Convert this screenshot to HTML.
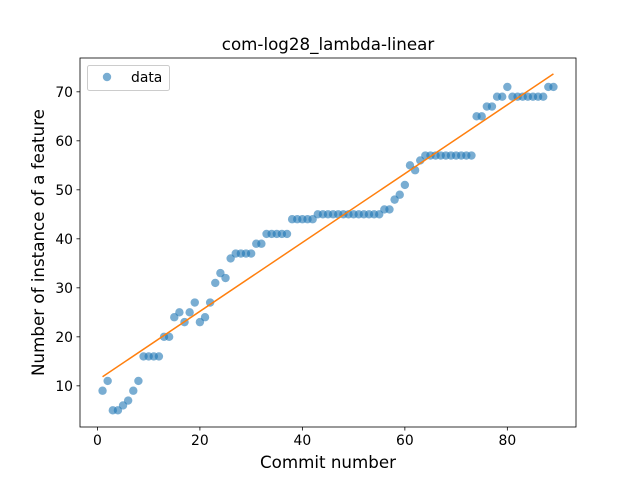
<!DOCTYPE html>
<html><head><meta charset="utf-8"><style>
body{margin:0;background:#fff}
text{font-family:"DejaVu Sans","Liberation Sans",sans-serif;fill:#000}
</style></head><body>
<svg id="chart" width="640" height="480" xmlns="http://www.w3.org/2000/svg">
<rect width="640" height="480" fill="#fff"/>
<g id="plot"></g>
</svg>
<script>
const commits = [];
for (let i = 1; i <= 89; i++) commits.push(i);
const counts = [9,11,5,5,6,7,9,11,16,16,16,16,20,20,24,25,23,25,27,23,24,27,31,33,32,36,37,37,37,37,39,39,41,41,41,41,41,44,44,44,44,44,45,45,45,45,45,45,45,45,45,45,45,45,45,46,46,48,49,51,55,54,56,57,57,57,57,57,57,57,57,57,57,65,65,67,67,69,69,71,69,69,69,69,69,69,69,71,71];
const xTicks = [0,20,40,60,80];
const yTicks = [10,20,30,40,50,60,70];

const L=80,R=576,T=58,B=427;
const xMin=-3.4,xMax=93.4,yMin=1.6,yMax=76.9;
const sx=v=>L+(v-xMin)/(xMax-xMin)*(R-L);
const sy=v=>B-(v-yMin)/(yMax-yMin)*(B-T);
const NS="http://www.w3.org/2000/svg";
const svg=document.getElementById('chart');
function mk(tag,attrs,parent){const e=document.createElementNS(NS,tag);for(const k in attrs)e.setAttribute(k,attrs[k]);(parent||svg).appendChild(e);return e;}

const pts=mk('g',{});


commits.forEach((c,i)=>{
  const p=mk('circle',{cx:sx(c),cy:sy(counts[i]),r:4.2,fill:'#1f77b4','fill-opacity':0.6},pts);
  
  
});
const n=commits.length;
const mx=commits.reduce((a,b)=>a+b,0)/n,my=counts.reduce((a,b)=>a+b,0)/n;
let sxy=0,sxx=0;commits.forEach((c,i)=>{sxy+=(c-mx)*(counts[i]-my);sxx+=(c-mx)*(c-mx);});
const slope=sxy/sxx,icpt=my-slope*mx;
const x0=commits[0],x1=commits[n-1];
const fit=mk('line',{x1:sx(x0),y1:sy(icpt+slope*x0),x2:sx(x1),y2:sy(icpt+slope*x1),stroke:'#ff7f0e','stroke-width':1.5});



const fr=mk('rect',{x:L,y:T,width:R-L,height:B-T,fill:'none',stroke:'#000','stroke-width':0.8});



xTicks.forEach(t=>{
  const x=sx(t);
  mk('line',{x1:x,y1:B,x2:x,y2:B+3.5,stroke:'#000','stroke-width':0.8});
  const tx=mk('text',{x:x,y:B+18,'text-anchor':'middle','font-size':'13.9'});
  tx.textContent=t;
  
  
});
yTicks.forEach(t=>{
  const y=sy(t);
  mk('line',{x1:L,y1:y,x2:L-3.5,y2:y,stroke:'#000','stroke-width':0.8});
  const tx=mk('text',{x:L-7,y:y+5,'text-anchor':'end','font-size':'13.9'});
  tx.textContent=t;
  
  
});

const title=mk('text',{x:(L+R)/2,y:50,'text-anchor':'middle','font-size':'16.7'});
title.textContent='com-log28_lambda-linear';


const xl=mk('text',{x:(L+R)/2,y:468,'text-anchor':'middle','font-size':'16.7'});
xl.textContent='Commit number';


const yl=mk('text',{x:0,y:0,'text-anchor':'middle','font-size':'16.7',transform:`translate(44,${(T+B)/2}) rotate(-90)`});
yl.textContent='Number of instance of a feature';



const lg=mk('g',{});


mk('rect',{x:87.5,y:65.5,width:82,height:25,rx:2,fill:'#fff','fill-opacity':0.8,stroke:'#ccc','stroke-width':1},lg);
mk('circle',{cx:107,cy:77,r:4.2,fill:'#1f77b4','fill-opacity':0.6},lg);
const lt=mk('text',{x:131,y:82,'font-size':'13.9'},lg);
lt.textContent='data';


</script>
</body></html>
